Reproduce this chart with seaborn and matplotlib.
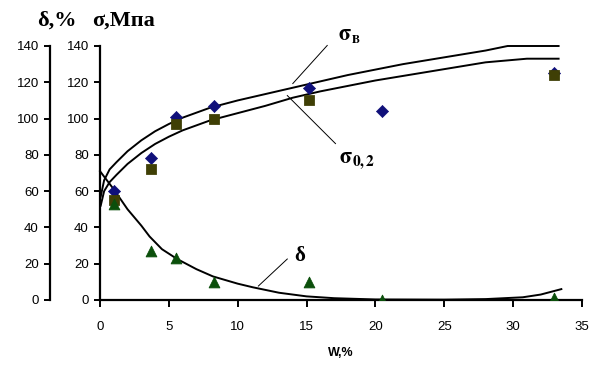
import matplotlib
matplotlib.use("Agg")
import matplotlib.pyplot as plt
import seaborn as sns
import pandas as pd

# measured points
w_pts = [1.0, 3.7, 5.5, 8.3, 15.2, 20.5, 33.0]
sigma_b_pts = [60, 78, 101, 107, 117, 104, 125]
w_pts02 = [1.0, 3.7, 5.5, 8.3, 15.2, 33.0]
sigma_02_pts = [55, 72, 97, 100, 110, 124]
delta_pts = [53, 27, 23, 10, 10, 0, 1]

# trend curves
w_curve_b = [0.05, 0.3, 0.7, 1.2, 2, 3, 4, 5, 6, 8, 10, 12, 14, 16, 18, 20, 22, 24, 26, 28, 29.6, 33.3]
sigma_b_curve = [57, 66, 72, 76, 82, 88, 93, 97, 100.5, 106, 110, 113.5, 117, 120.5, 124, 127, 130, 132.5, 135, 137.5, 140, 140]
w_curve_02 = [0.05, 0.3, 0.7, 1.2, 2, 3, 4, 5, 6, 8, 10, 12, 14, 16, 18, 20, 22, 24, 26, 28, 31, 33.3]
sigma_02_curve = [52, 60, 65, 69, 75, 81, 86, 90, 93.5, 99, 103, 107, 111.5, 115, 118, 121, 123.5, 126, 128.5, 131, 133, 133]
w_curve_d = [0.0, 0.5, 1, 2, 3, 3.6, 4.5, 5.6, 7, 8.2, 10, 11.1, 13, 15, 17, 20, 25, 28, 30.7, 32, 33.5]
delta_curve = [71, 66, 61, 50, 41, 35, 28, 22.6, 17, 13, 9, 7, 4, 2, 1, 0.3, 0.2, 0.5, 1.5, 3, 6]

x_ticks = [0, 5, 10, 15, 20, 25, 30, 35]
y_ticks = [0, 20, 40, 60, 80, 100, 120, 140]

plt.rcParams['font.family'] = ['Liberation Sans', 'DejaVu Sans']
plt.rcParams['mathtext.fontset'] = 'stix'

fig = plt.figure(figsize=(6.01, 3.67), dpi=100)
ax = fig.add_axes([100/601, 67/367, 482/601, 254/367])

lw = 1.4
for xs, ys in [(w_curve_b, sigma_b_curve), (w_curve_02, sigma_02_curve), (w_curve_d, delta_curve)]:
    sns.lineplot(x=xs, y=ys, ax=ax, color="black", lw=lw, sort=False, estimator=None)
for ln in ax.lines:
    ln.set_clip_on(False)

sns.scatterplot(x=w_pts02, y=sigma_02_pts, ax=ax, marker="s", s=50, color="#3f3f05", edgecolor="#3f3f05", zorder=5)
sns.scatterplot(x=w_pts, y=sigma_b_pts, ax=ax, marker="D", s=38, color="#10107a", edgecolor="#10107a", zorder=4)
sns.scatterplot(x=w_pts, y=delta_pts, ax=ax, marker="^", s=60, color="#0b4f0b", edgecolor="#0b4f0b", zorder=5)

ax.set_xlim(0, 35)
ax.set_ylim(0, 140)
ax.set_xticks(x_ticks)
ax.set_yticks(y_ticks)
for s in ["top", "right"]:
    ax.spines[s].set_visible(False)
for s in ["left", "bottom"]:
    ax.spines[s].set_linewidth(1.6)
ax.tick_params(axis="y", direction="out", length=4, width=1.4, labelsize=9.5, pad=4)
ax.tick_params(axis="x", direction="out", length=5, width=1.4, labelsize=9.5, pad=10)
ax.set_xlabel("W,%", fontsize=9, fontweight="bold", labelpad=10)

sec = ax.secondary_yaxis(-50/482)
sec.set_yticks(y_ticks)
sec.spines["left"].set_linewidth(1.6)
sec.tick_params(direction="out", length=4, width=1.4, labelsize=9.5, pad=4)

# titles of the y axes
fig.text(37/601, 1 - 21/367, "δ,%", fontsize=16, fontweight="bold", family="Liberation Serif", va="center", ha="left")
fig.text(92/601, 1 - 21/367, "σ,Мпа", fontsize=16, fontweight="bold", family="Liberation Serif", va="center", ha="left")

# curve labels with leader lines
ax.plot([16.5, 14.0], [140.3, 119.3], color="black", lw=0.7, clip_on=False)
ax.text(18.1, 146, "$\\mathbf{\\sigma_{в}}$", fontsize=16, ha="center", va="center")
ax.plot([13.6, 17.1], [112.7, 86.2], color="black", lw=0.7)
ax.text(18.7, 77, "$\\mathbf{\\sigma_{0,2}}$", fontsize=16, ha="center", va="center")
ax.plot([11.5, 13.6], [7.7, 22.6], color="black", lw=0.7)
ax.text(14.5, 24, "δ", fontsize=15, fontweight="bold", family="Liberation Serif", ha="center", va="center")

fig.savefig("out.png", dpi=100)
